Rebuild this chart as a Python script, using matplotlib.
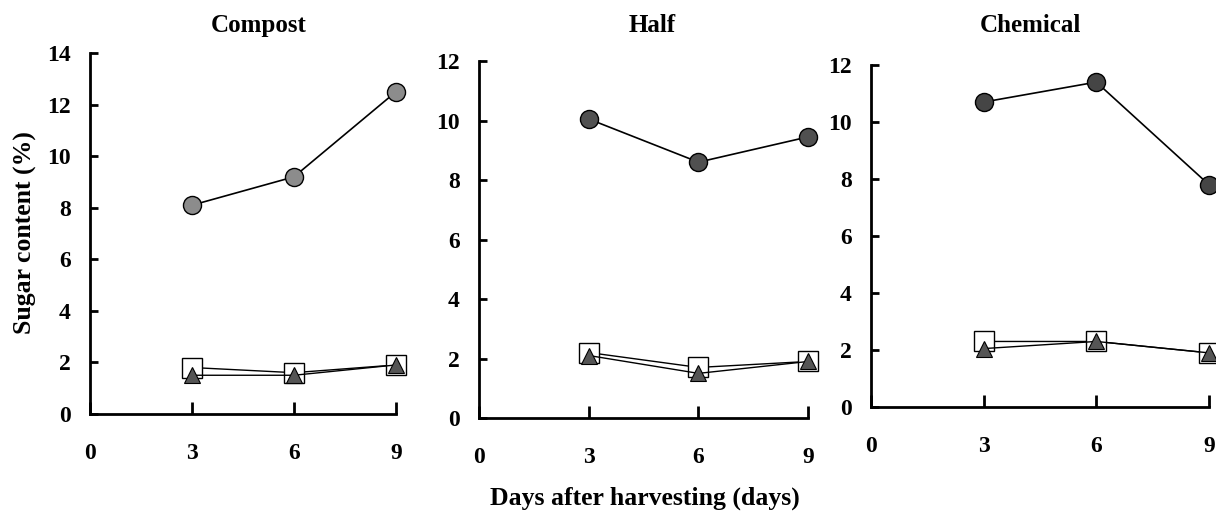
import numpy as np
import matplotlib.pyplot as plt

plt.rcParams['font.family'] = ['Liberation Serif', 'DejaVu Serif']
plt.rcParams['font.weight'] = 'bold'

# data
days = [3, 6, 9]
panels = ["Compost", "Half", "Chemical"]
circle_vals = [[8.1, 9.2, 12.5], [10.05, 8.6, 9.45], [10.7, 11.4, 7.8]]
square_vals = [[1.8, 1.6, 1.9], [2.2, 1.7, 1.9], [2.3, 2.3, 1.9]]
triangle_vals = [[1.5, 1.5, 1.9], [2.1, 1.5, 1.9], [2.05, 2.3, 1.9]]
y_max = [14, 12, 12]
circle_colors = ["#8c8c8c", "#505050", "#454545"]

# axes boxes in figure fraction [left, bottom, width, height]
boxes = [
    [0.074, 0.190, 0.2516, 0.706],
    [0.394, 0.182, 0.2706, 0.6986],
    [0.7163, 0.2035, 0.2779, 0.6693],
]
title_x = [0.213, 0.536, 0.847]

fig = plt.figure(figsize=(12.16, 5.11), dpi=100)

for i in range(3):
    ax = fig.add_axes(boxes[i])
    ax.plot(days, square_vals[i], color="black", lw=1.0, marker="s", ms=15,
            mfc="white", mec="black", mew=1.0, clip_on=False, zorder=3)
    ax.plot(days, triangle_vals[i], color="black", lw=1.0, marker="^", ms=11,
            mfc="#555555", mec="black", mew=0.8, clip_on=False, zorder=4)
    ax.plot(days, circle_vals[i], color="black", lw=1.2, marker="o", ms=13,
            mfc=circle_colors[i], mec="black", mew=1.0, clip_on=False, zorder=5)

    ax.set_xlim(0, 9)
    ax.set_ylim(0, y_max[i])
    ax.set_xticks([0, 3, 6, 9])
    ax.set_yticks(np.arange(0, y_max[i] + 1, 2))
    ax.spines['top'].set_visible(False)
    ax.spines['right'].set_visible(False)
    ax.spines['left'].set_linewidth(2)
    ax.spines['bottom'].set_linewidth(2)
    ax.tick_params(axis='x', direction='in', length=9, width=2, pad=21, labelsize=17)
    ax.tick_params(axis='y', direction='in', length=6, width=2, pad=14, labelsize=17)
    for lab in ax.get_xticklabels() + ax.get_yticklabels():
        lab.set_fontweight('bold')
    fig.text(title_x[i], 0.951, panels[i], ha="center", va="center",
             fontsize=18, fontweight="bold")

fig.text(0.021, 0.544, "Sugar content (%)", rotation=90, ha="center", va="center",
         fontsize=18.5, fontweight="bold")
fig.text(0.53, 0.025, "Days after harvesting (days)", ha="center", va="center",
         fontsize=18.5, fontweight="bold")

fig.savefig("out.png", dpi=100)
